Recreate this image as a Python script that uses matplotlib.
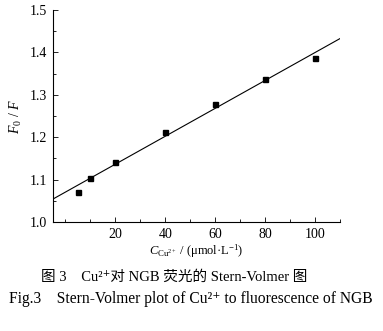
import numpy as np
import matplotlib
matplotlib.use('Agg')
import matplotlib.pyplot as plt
from matplotlib.ticker import MultipleLocator, FixedLocator

# data
conc = [5, 10, 20, 40, 60, 80, 100]
ratio = [1.070, 1.105, 1.142, 1.212, 1.278, 1.337, 1.387]
xTicks = [20, 40, 60, 80, 100]
yTicks = [1.0, 1.1, 1.2, 1.3, 1.4, 1.5]

plt.rcParams['font.family'] = ['Liberation Serif', 'Noto Sans CJK SC', 'DejaVu Sans']
plt.rcParams['mathtext.fontset'] = 'custom'
plt.rcParams['mathtext.rm'] = 'Liberation Serif'
plt.rcParams['mathtext.it'] = 'Liberation Serif:italic'

fig = plt.figure(figsize=(3.83, 3.31), dpi=100)
ax = fig.add_axes([0.138, 0.329, 0.750, 0.641])

# linear fit
slope, intercept = np.polyfit(conc, ratio, 1)
xFit = np.array([-5, 110])
ax.plot(xFit, slope * xFit + intercept, color='black', lw=0.8)
ax.plot(conc, ratio, 's', color='black', ms=3.6)

ax.set_xlim(-5, 110)
ax.set_ylim(1.0, 1.5)
ax.xaxis.set_major_locator(FixedLocator(xTicks))
ax.xaxis.set_minor_locator(MultipleLocator(10))
ax.set_yticks(yTicks)
ax.yaxis.set_minor_locator(MultipleLocator(0.05))
ax.spines['top'].set_visible(False)
ax.spines['right'].set_visible(False)
for s in ['left', 'bottom']:
    ax.spines[s].set_linewidth(0.8)
ax.tick_params(which='both', direction='in', labelsize=10, width=0.6)
ax.tick_params(which='major', length=3.5, pad=4)
ax.tick_params(which='minor', length=2)

ax.set_ylabel(r'$F_0$ / $F$', fontsize=10, labelpad=4)
ax.set_xlabel(r'$C_{\mathrm{Cu}^{2+}}$ / (μmol·L$^{-1}$)', fontsize=9, labelpad=1)

fig.text(0.455, 0.163, '图 3　Cu²⁺对 NGB 荧光的 Stern-Volmer 图',
         ha='center', va='center', fontsize=10.5)
fig.text(0.497, 0.098, 'Fig.3    Stern-Volmer plot of Cu²⁺ to fluorescence of NGB',
         ha='center', va='center', fontsize=11.2)

fig.savefig('out.png', dpi=100)
